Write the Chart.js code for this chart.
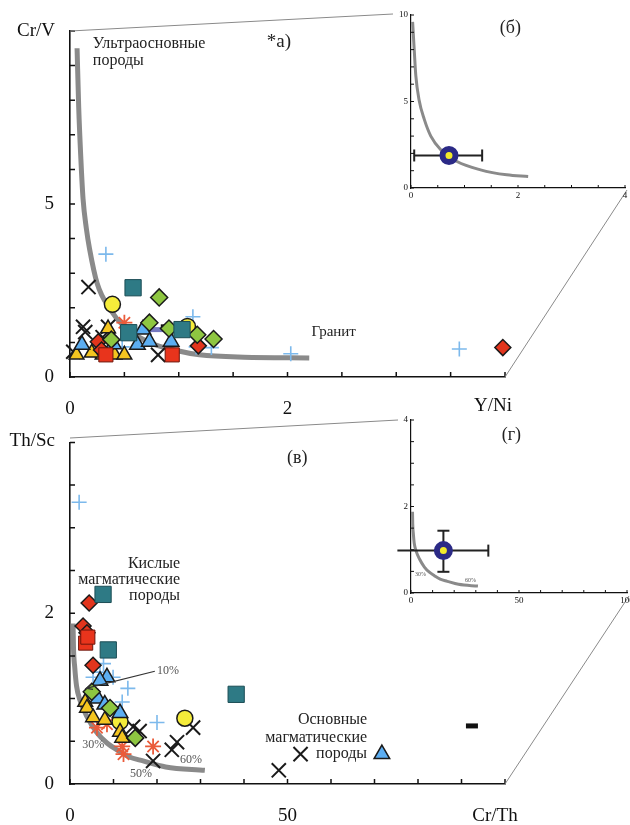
<!DOCTYPE html>
<html>
<head>
<meta charset="utf-8">
<script src="https://cdn.jsdelivr.net/npm/chart.js@4.4.0/dist/chart.umd.min.js"></script>
<style>
  html, body { margin: 0; padding: 0; background: #fff; }
  #wrap { position: relative; width: 630px; height: 825px; overflow: hidden; background: #fff; }
  #wrap canvas { position: absolute; }
</style>
</head>
<body>
<div id="wrap"></div>
<script>
const SERIF = '"Liberation Serif", "Times New Roman", serif';

// ---- panel (a): Cr/V vs Y/Ni ----
const topCurve = [[0.065, 9.5], [0.08, 7.8], [0.1, 6.3], [0.12, 5.15], [0.15, 4.3], [0.18, 3.7], [0.25, 2.7],
  [0.37, 1.95], [0.5, 1.45], [0.73, 1.0], [1.0, 0.75], [1.19, 0.64], [1.6, 0.57], [2.2, 0.55]];
const topXs = [[0.17, 2.6], [0.12, 1.45], [0.35, 1.45], [0.14, 1.3], [0.03, 0.73], [0.81, 0.64], [0.3, 1.15]];
const topPlus = [[0.33, 3.55], [1.13, 1.74], [1.16, 0.87], [1.3, 0.85], [0.48, 0.87], [2.03, 0.67], [3.58, 0.81]];
const topCircles = [[0.39, 2.1], [1.08, 1.46]];
const topTeal = [[0.58, 2.58], [0.54, 1.28], [1.03, 1.37]];
const topGreen = [[0.82, 2.3], [0.73, 1.57], [0.91, 1.4], [1.17, 1.22], [1.32, 1.1], [0.38, 1.08]];
const topRedDiam = [[0.26, 1.02], [0.29, 0.78], [1.18, 0.9], [3.98, 0.85]];
const topRedSq = [[0.94, 0.64], [0.33, 0.64]];
const topBlueTri = [[0.11, 0.93], [0.67, 1.37], [0.62, 0.93], [0.73, 1.02], [0.93, 1.02], [0.4, 0.95]];
const topYellowTri = [[0.06, 0.64], [0.35, 1.4], [0.3, 0.64], [0.41, 0.64], [0.5, 0.64], [0.2, 0.7]];
const topStars = [[0.5, 1.57], [0.28, 0.72]];
const topSlate = [[0.8, 1.37]];
const topBlackBar = [[0.89, 1.45]];

// ---- inset (б) ----
const insetBCurve = [[0.03, 9.6], [0.06, 8.0], [0.09, 6.5], [0.15, 5.1], [0.25, 3.95], [0.37, 3.0], [0.56, 2.2],
  [0.86, 1.53], [1.3, 1.05], [1.79, 0.76], [2.19, 0.66]];
const insetBMean = [[0.71, 1.88]];
const insetBxErr = [[0.06, 1.88], [1.33, 1.88]];

// ---- panel (в): Th/Sc vs Cr/Th ----
const botCurve = [[0.7, 1.88], [0.8, 1.6], [1.1, 1.36], [1.5, 1.15], [2.3, 0.98], [4, 0.78], [6.2, 0.6],
  [8.5, 0.48], [10.8, 0.4], [13.5, 0.32], [16.8, 0.27], [22, 0.2], [31, 0.16]];
const botXs = [[14.5, 0.67], [16, 0.62], [28.3, 0.66], [24.6, 0.49], [23.4, 0.4], [19.1, 0.27], [48, 0.16], [53, 0.35]];
const botPlus = [[2.1, 3.3], [5.3, 1.25], [6.9, 1.31], [9.9, 1.25], [13.3, 1.12], [12, 0.96], [20, 0.72], [7.7, 1.41]];
const botCircles = [[26.4, 0.77], [11.5, 0.73]];
const botTeal = [[7.6, 2.22], [8.8, 1.57], [38.2, 1.05]];
const botGreen = [[5, 1.08], [9.2, 0.89], [15, 0.54]];
const botRedDiam = [[4.4, 2.12], [3.0, 1.85], [3.9, 1.77], [5.3, 1.39]];
const botRedSq = [[3.6, 1.65], [4.1, 1.72]];
const botBlueTri = [[8.5, 1.25], [6.9, 1.21], [6.4, 1.0], [8, 0.93], [11.5, 0.83], [71.7, 0.35]];
const botYellowTri = [[3.5, 0.96], [3.9, 0.89], [5.3, 0.78], [8, 0.75], [11.5, 0.61], [12, 0.54]];
const botStars = [[6.2, 0.66], [8.5, 0.7], [12, 0.44], [12.3, 0.35], [19.1, 0.44]];
const botBlackBar = [[92.4, 0.68]];

// ---- inset (г) ----
const insetGMean = [[15, 0.98]];
const insetGxErr = [[-6.3, 0.98], [35.8, 0.98]];
const insetGyErr = [[15, 0.49], [15, 1.44]];

function pts(arr) { return arr.map(([x, y]) => ({ x, y })); }

function marks(data, style, r, fill, stroke, bw, extra) {
  return Object.assign({
    data: pts(data), pointStyle: style, pointRadius: r, pointBackgroundColor: fill,
    pointBorderColor: stroke, pointBorderWidth: bw, showLine: false, clip: false, order: 1,
  }, extra || {});
}

function curve(data, width) {
  return { data: pts(data), showLine: true, borderColor: '#8a8a8a', borderWidth: width, pointRadius: 0,
    cubicInterpolationMode: 'monotone', clip: false, order: 9 };
}

function errBar(data, capRot) {
  return { data: pts(data), showLine: true, borderColor: '#222', borderWidth: 2, pointStyle: 'line',
    pointRotation: capRot, pointRadius: 6, pointBorderColor: '#222', pointBorderWidth: 2, clip: false, order: 2 };
}

function meanMark(data) {
  return marks(data, 'circle', 6.5, '#f2ea2a', '#2b2a86', 6, { order: 0 });
}

function axis(min, max, step, shown, size, pad, bw) {
  return {
    type: 'linear', min, max,
    grid: { display: false, drawTicks: false },
    border: { display: true, color: '#111', width: bw },
    ticks: { stepSize: step, autoSkip: false, maxRotation: 0, padding: pad, color: '#111',
      font: { family: SERIF, size },
      callback: (v) => (shown.includes(v) ? String(v) : '') },
  };
}

// inward tick marks, titles, notes, connector lines
const decor = {
  id: 'decor',
  afterDatasetsDraw(chart, args, o) {
    const { ctx, chartArea: a, scales: { x, y } } = chart;
    ctx.save();
    ctx.strokeStyle = '#111';
    ctx.lineWidth = o.tickWidth;
    ctx.beginPath();
    x.ticks.forEach((t) => { const p = x.getPixelForValue(t.value); ctx.moveTo(p, a.bottom); ctx.lineTo(p, a.bottom - o.tickLen); });
    y.ticks.forEach((t) => { const p = y.getPixelForValue(t.value); ctx.moveTo(a.left, p); ctx.lineTo(a.left + o.tickLen, p); });
    ctx.stroke();

    ctx.strokeStyle = '#8a8a8a';
    ctx.lineWidth = 1;
    ctx.beginPath();
    (o.lines || []).forEach(([x1, y1, x2, y2]) => { ctx.moveTo(x1 - o.ox, y1 - o.oy); ctx.lineTo(x2 - o.ox, y2 - o.oy); });
    ctx.stroke();

    ctx.strokeStyle = '#333';
    ctx.lineWidth = 1.2;
    (o.arrows || []).forEach(([x1, y1, x2, y2]) => {
      const p1 = [x.getPixelForValue(x1), y.getPixelForValue(y1)];
      const p2 = [x.getPixelForValue(x2), y.getPixelForValue(y2)];
      const ang = Math.atan2(p2[1] - p1[1], p2[0] - p1[0]);
      ctx.beginPath();
      ctx.moveTo(p1[0], p1[1]); ctx.lineTo(p2[0], p2[1]);
      ctx.moveTo(p2[0] - 7 * Math.cos(ang - 0.4), p2[1] - 7 * Math.sin(ang - 0.4));
      ctx.lineTo(p2[0], p2[1]);
      ctx.lineTo(p2[0] - 7 * Math.cos(ang + 0.4), p2[1] - 7 * Math.sin(ang + 0.4));
      ctx.stroke();
    });

    ctx.textBaseline = 'middle';
    (o.notes || []).forEach((n) => {
      ctx.font = `${n.size}px ${SERIF}`;
      ctx.fillStyle = n.color || '#222';
      ctx.textAlign = n.align || 'left';
      ctx.fillText(n.text, x.getPixelForValue(n.x), y.getPixelForValue(n.y));
    });
    (o.titles || []).forEach((n) => {
      ctx.font = `${n.size}px ${SERIF}`;
      ctx.fillStyle = '#111';
      ctx.textAlign = n.align;
      ctx.fillText(n.text, n.px - o.ox, n.py - o.oy);
    });
    ctx.restore();
  },
};

function panel(box, area, xAx, yAx, datasets, decorOpts) {
  const c = document.createElement('canvas');
  c.width = box.w; c.height = box.h;
  c.style.left = box.x + 'px'; c.style.top = box.y + 'px';
  document.getElementById('wrap').appendChild(c);
  xAx.afterFit = (s) => { s.height = box.y + box.h - area.bottom; };
  yAx.afterFit = (s) => { s.width = area.left - box.x; };
  return new Chart(c, {
    type: 'scatter',
    data: { datasets },
    options: {
      responsive: false, animation: false, events: [],
      layout: { padding: { top: area.top - box.y, right: box.x + box.w - area.right, left: 0, bottom: 0 } },
      scales: { x: xAx, y: yAx },
      plugins: { legend: { display: false }, tooltip: { enabled: false },
        decor: Object.assign({ ox: box.x, oy: box.y }, decorOpts) },
    },
    plugins: [decor],
  });
}

function markerSets(s) {
  return [
    marks(s.teal, 'rect', 11.5, '#2e7a85', '#1c4d55', 1),
    marks(s.redSq, 'rect', 10, '#e8341c', '#6d160c', 1),
    marks(s.green, 'rectRot', 8.5, '#8ec641', '#1a1a1a', 1.5),
    marks(s.redDiam, 'rectRot', 8, '#e2351d', '#1a1a1a', 1.5),
    marks(s.blueTri, 'triangle', 9, '#5caef2', '#1a1a1a', 1.5),
    marks(s.yellowTri, 'triangle', 8.5, '#f4c520', '#1a1a1a', 1.5),
    marks(s.circles, 'circle', 8, '#f5ec3a', '#1a1a1a', 1.5),
    marks(s.stars, 'star', 8, 'transparent', '#ea5b3a', 1.8),
    marks(s.plus, 'cross', 7.5, 'transparent', '#7cb9ec', 1.6),
    marks(s.xs, 'crossRot', 10, 'transparent', '#1a1a1a', 2),
    marks(s.slate || [], 'line', 10, '#7679c0', '#7679c0', 5),
    marks(s.blackBar, 'line', 6, '#111', '#111', 5),
  ];
}

// panel (a)
panel({ x: 0, y: 0, w: 630, h: 425 }, { left: 70, top: 31, right: 505, bottom: 377 },
  axis(0, 4, 0.5, [0, 2], 19, 21, 1.6),
  axis(0, 10, 1, [0, 5], 19, 16, 1.6),
  [...markerSets({ teal: topTeal, redSq: topRedSq, green: topGreen, redDiam: topRedDiam, blueTri: topBlueTri,
    yellowTri: topYellowTri, circles: topCircles, stars: topStars, plus: topPlus, xs: topXs,
    slate: topSlate, blackBar: topBlackBar }), curve(topCurve, 5)],
  {
    tickLen: 5, tickWidth: 1.5,
    lines: [[70, 31, 393, 14], [505, 377, 627, 190]],
    notes: [
      { text: 'Ультраосновные', x: 0.21, y: 9.62, size: 16 },
      { text: 'породы', x: 0.21, y: 9.13, size: 16 },
      { text: '*а)', x: 1.81, y: 9.68, size: 19 },
      { text: 'Гранит', x: 2.22, y: 1.31, size: 15 },
    ],
    titles: [
      { text: 'Cr/V', px: 55, py: 31, align: 'right', size: 19 },
      { text: 'Y/Ni', px: 493, py: 406, align: 'center', size: 19 },
    ],
  });

// inset (б)
panel({ x: 385, y: 0, w: 260, h: 205 }, { left: 411, top: 15, right: 625, bottom: 188 },
  axis(0, 4, 0.5, [0, 2, 4], 9, 2, 1.2),
  axis(0, 10, 1, [0, 5, 10], 9, 3, 1.2),
  [meanMark(insetBMean), errBar(insetBxErr, 90), curve(insetBCurve, 3)],
  {
    tickLen: 3, tickWidth: 1,
    notes: [{ text: '(б)', x: 1.66, y: 9.25, size: 18 }],
  });

// panel (в)
panel({ x: 0, y: 415, w: 630, h: 410 }, { left: 70, top: 438, right: 505, bottom: 784 },
  axis(0, 100, 10, [0, 50], 19, 21, 1.6),
  axis(0, 4, 0.5, [0, 2], 19, 16, 1.6),
  [...markerSets({ teal: botTeal, redSq: botRedSq, green: botGreen, redDiam: botRedDiam, blueTri: botBlueTri,
    yellowTri: botYellowTri, circles: botCircles, stars: botStars, plus: botPlus, xs: botXs,
    blackBar: botBlackBar }), curve(botCurve, 5)],
  {
    tickLen: 5, tickWidth: 1.5,
    lines: [[70, 438, 398, 420], [505, 784, 629, 596]],
    arrows: [[19.5, 1.32, 3.7, 1.12]],
    notes: [
      { text: '(в)', x: 49.9, y: 3.82, size: 18 },
      { text: 'Кислые', x: 25.3, y: 2.58, size: 16, align: 'right' },
      { text: 'магматические', x: 25.3, y: 2.39, size: 16, align: 'right' },
      { text: 'породы', x: 25.3, y: 2.2, size: 16, align: 'right' },
      { text: 'Основные', x: 68.3, y: 0.75, size: 16, align: 'right' },
      { text: 'магматические', x: 68.3, y: 0.545, size: 16, align: 'right' },
      { text: 'породы', x: 68.3, y: 0.35, size: 16, align: 'right' },
      { text: '10%', x: 20, y: 1.32, size: 12, color: '#555' },
      { text: '30%', x: 2.8, y: 0.46, size: 12, color: '#555' },
      { text: '50%', x: 13.8, y: 0.12, size: 12, color: '#555' },
      { text: '60%', x: 25.3, y: 0.28, size: 12, color: '#555' },
    ],
    titles: [
      { text: 'Th/Sc', px: 55, py: 441, align: 'right', size: 19 },
      { text: 'Cr/Th', px: 495, py: 816, align: 'center', size: 19 },
    ],
  });

// inset (г)
panel({ x: 385, y: 405, w: 260, h: 205 }, { left: 411, top: 420, right: 627, bottom: 593 },
  axis(0, 100, 10, [0, 50, 100], 9, 2, 1.2),
  axis(0, 4, 0.5, [0, 2, 4], 9, 3, 1.2),
  [meanMark(insetGMean), errBar(insetGxErr, 90), errBar(insetGyErr, 0), curve(botCurve, 3)],
  {
    tickLen: 3, tickWidth: 1,
    notes: [
      { text: '(г)', x: 42, y: 3.65, size: 18 },
      { text: '30%', x: 1.9, y: 0.44, size: 6, color: '#555' },
      { text: '60%', x: 25, y: 0.28, size: 6, color: '#555' },
    ],
  });
</script>
</body>
</html>
